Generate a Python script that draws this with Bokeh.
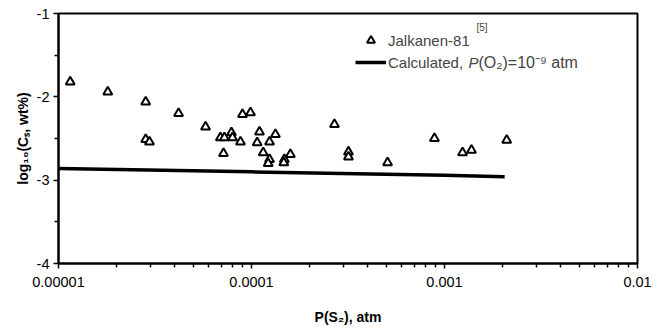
from bokeh.plotting import figure
from bokeh.models import (FixedTicker, CustomJSTickFormatter, Legend, LegendItem, Label,
                          Range1d)
from bokeh.embed import file_html
from bokeh.resources import INLINE

# Jalkanen-81 data: P(S2) [atm], log10(Cs, wt%)
ps2_data = [1.15e-5, 1.80e-5, 2.83e-5, 2.83e-5, 2.96e-5, 4.19e-5, 5.78e-5, 6.90e-5,
            7.24e-5, 7.87e-5, 7.97e-5, 8.77e-5, 7.16e-5, 8.98e-5, 9.88e-5, 1.10e-4,
            1.07e-4, 1.24e-4, 1.33e-4, 1.15e-4, 1.24e-4, 1.22e-4, 1.48e-4, 1.47e-4,
            1.59e-4, 2.69e-4, 3.18e-4, 3.18e-4, 5.07e-4, 8.87e-4, 1.24e-3, 1.38e-3,
            2.10e-3]
logcs_data = [-1.82, -1.94, -2.06, -2.51, -2.54, -2.20, -2.36, -2.49,
              -2.49, -2.43, -2.49, -2.54, -2.68, -2.21, -2.19, -2.42,
              -2.55, -2.54, -2.45, -2.67, -2.75, -2.80, -2.75, -2.79,
              -2.69, -2.33, -2.66, -2.72, -2.79, -2.50, -2.67, -2.64,
              -2.52]

# Calculated curve, P(O2)=1e-9 atm
ps2_calc = [1e-5, 1e-4, 1e-3, 2.05e-3]
logcs_calc = [-2.86, -2.90, -2.94, -2.96]

x_ticks = [1e-5, 1e-4, 1e-3, 1e-2]
x_minor = [m * d for d in [1e-5, 1e-4, 1e-3] for m in range(2, 10)]
y_ticks = [-4, -3, -2, -1]
y_minor = [-3.5, -2.5, -1.5]

FONT = "Liberation Sans"

p = figure(x_axis_type="log", x_range=Range1d(1e-5, 1e-2), y_range=Range1d(-4, -1),
           frame_width=579, frame_height=250,
           min_border_left=58, min_border_right=25, min_border_top=13, min_border_bottom=65,
           output_backend="svg", toolbar_location=None)

p.grid.visible = False
p.outline_line_color = "black"
p.outline_line_width = 2
p.background_fill_color = "white"
p.border_fill_color = "white"

p.xaxis.ticker = FixedTicker(ticks=x_ticks, minor_ticks=x_minor)
p.xaxis.formatter = CustomJSTickFormatter(
    code="return tick.toFixed(Math.max(0, -Math.round(Math.log10(tick))));")
p.yaxis.ticker = FixedTicker(ticks=y_ticks, minor_ticks=y_minor)
p.yaxis.formatter = CustomJSTickFormatter(code="return String(tick);")

for ax in (p.xaxis, p.yaxis):
    ax.axis_line_width = 2
    ax.axis_line_color = "black"
    ax.major_tick_in = 0
    ax.major_tick_out = 5
    ax.minor_tick_in = 0
    ax.minor_tick_out = 4
    ax.major_tick_line_width = 1.5
    ax.minor_tick_line_width = 1.5
    ax.major_tick_line_color = "black"
    ax.minor_tick_line_color = "black"
    ax.major_label_text_font = FONT
    ax.major_label_text_font_size = "14.5px"
    ax.major_label_text_color = "black"
    ax.axis_label_text_font = FONT
    ax.axis_label_text_font_size = "14px"
    ax.axis_label_text_font_style = "bold"
    ax.axis_label_text_color = "black"

p.xaxis.major_label_standoff = 8
p.yaxis.major_label_standoff = 4
p.xaxis.axis_label = "P(S₂), atm"
p.yaxis.axis_label = "log₁₀(Cₛ, wt%)"
p.xaxis.axis_label_standoff = 19
p.yaxis.axis_label_standoff = 3

line_r = p.line(ps2_calc, logcs_calc, line_color="black", line_width=3.5)
pts_r = p.scatter(ps2_data, logcs_data, marker="triangle", size=9,
                  fill_color="white", line_color="black", line_width=2)

legend = Legend(items=[LegendItem(label="Jalkanen-81", renderers=[pts_r]),
                       LegendItem(label="Calculated,", renderers=[line_r])],
                location=(297, 191), padding=0, margin=0, spacing=2,
                glyph_width=31, glyph_height=20, label_height=20, label_standoff=2,
                label_text_font=FONT, label_text_font_size="15px",
                border_line_color=None, background_fill_alpha=0)
p.add_layout(legend, "center")

p.add_layout(Label(x=418, y=236, x_units="screen", y_units="screen", text="[5]",
                   text_font=FONT, text_font_size="10px", text_baseline="middle"))
p.add_layout(Label(x=410, y=201, x_units="screen", y_units="screen", text="P",
                   text_font=FONT, text_font_size="15px", text_font_style="italic",
                   text_baseline="middle"))
p.add_layout(Label(x=420, y=201, x_units="screen", y_units="screen", text="(O₂)=10⁻⁹ atm",
                   text_font=FONT, text_font_size="16px", text_baseline="middle"))

open("out.html", "w").write(file_html(p, INLINE))
